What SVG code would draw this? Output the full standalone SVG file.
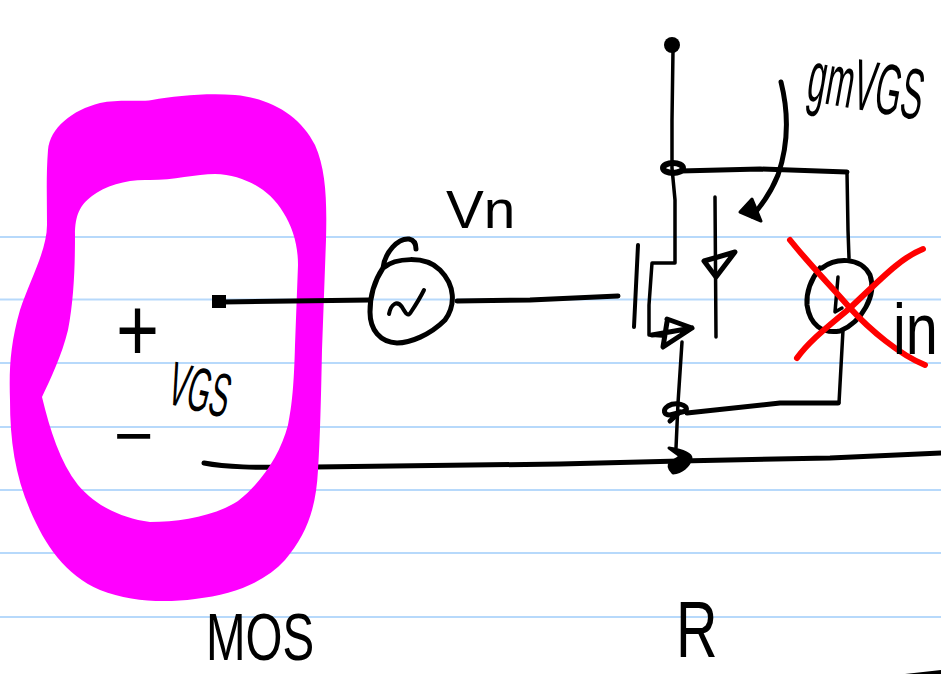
<svg xmlns="http://www.w3.org/2000/svg" width="941" height="674" viewBox="0 0 941 674">
<style>
.rule{stroke:#b7d9fb;stroke-width:2;fill:none}
.ink{stroke:#000;fill:none;stroke-linecap:round;stroke-linejoin:round;stroke-width:4}
.thin{stroke-width:3.500}
.thick{stroke-width:5}
.red{stroke:#f00;fill:none;stroke-width:6;stroke-linecap:round}
.blob{fill:#000;stroke:#000;stroke-width:3;stroke-linejoin:round}
text{font-family:"Liberation Sans",Arial,sans-serif;fill:#000}
</style>
<rect width="941" height="674" fill="#fff"/>
<g id="rules">
<path class="rule" d="M0 237H941M0 299.500H941M0 363H941M0 427H941M0 490H941M0 553H941M0 617H941"/>
</g>
<g id="connectors">
<path class="ink thick" d="M204 463C225 467 250 468 315 467L560 464L680 461L830 458L941 453"/>
</g>
<g id="highlight">
<path fill="#f0f" fill-rule="evenodd" d="M48 150C50 128 72 110 100 103C118 99 140 102 152 100C175 96 205 93 235 95C270 98 300 115 315 145C326 170 327 200 326 240L322 350C321 400 320 440 318 470C316 510 306 535 285 560C265 582 235 594 195 599C165 603 130 602 100 590C65 575 45 545 30 510C15 475 10 440 10 400C9 370 10 345 20 310C30 280 47 250 47 225C47 200 46 175 48 150ZM75 235C75 215 80 205 92 196C105 186 125 180 145 180C170 181 195 174 215 174C245 175 270 190 283 212C293 228 298 245 298 265L295 345C294 385 292 405 288 425C280 455 262 482 238 501C215 516 180 522 150 522C120 518 95 505 78 485C60 462 50 430 42 397C50 380 62 355 68 330C74 300 75 265 75 235Z"/>
</g>
<g id="gate-lead">
<path class="ink thick" d="M222 302L370 300"/>
<rect x="212" y="295" width="14" height="13" fill="#000"/>
<path class="ink thick" d="M457 301L530 300L618 296"/>
</g>
<g id="source-vn">
<path class="ink thick" d="M383 268C395 258 425 255 440 270C455 285 456 305 445 320C430 335 410 343 397 343C380 342 370 330 370 312C370 295 375 280 383 268C385 252 398 238 409 239C414 240 416 244 416 249"/>
<path class="ink" d="M389 314C391 304 397 300 402 307C406 314 408 317 411 312C415 306 420 298 424 290"/>
</g>
<g id="mosfet">
<path class="ink thin" d="M673 50L672 120L672 168L675 200L675 263L652 263L649 305L649 335L662 336"/>
<path class="ink" d="M638 245L634 327"/>
<path class="ink thick" d="M652 335L692 328L667 319M692 328L663 347L667 322"/>
<ellipse cx="672" cy="45" rx="8" ry="8" fill="#000"/>
<ellipse cx="673" cy="168" rx="10" ry="5" fill="none" stroke="#000" stroke-width="6"/>
<path class="ink thin" d="M682 342L678 403L676 448"/>
<path class="ink thick" d="M686 411C689 404 675 402 668 406C662 410 664 415 670 415L686 411M670 421L680 412"/>
<path class="blob" d="M669 448C680 450 691 453 691 458C689 467 681 472 673 473C669 469 668 465 671 462C675 460 678 459 680 456Z"/>
</g>
<g id="current-source">
<path class="ink thin" d="M715 197L716 337"/>
<path class="ink thick" d="M704 261L735 252L716 277Z"/>
<path class="ink thin" d="M847 172L848 230L849 258"/>
<path class="ink thick" d="M822 268C835 258 860 256 870 275C877 295 862 322 840 331C822 334 810 325 807 305C806 290 812 278 820 268"/>
<path class="ink thin" d="M838 277L835 312L842 308"/>
<path class="ink thin" d="M843 330L839 403"/>
<path class="ink thick" d="M687 413L780 403L838 403M680 171L760 169L847 172"/>
<path class="ink thick" d="M781 82C788 110 790 140 778 175C772 190 762 205 752 216"/>
<path class="blob" d="M740 212L752 199L761 221Z"/>
</g>
<g id="cross">
<path class="red" d="M790 240C810 265 830 285 850 308C870 330 900 355 925 365"/>
<path class="red" d="M797 358C810 340 830 325 850 308C880 280 900 258 923 249"/>
</g>
<g id="labels">
<text font-size="72" transform="translate(805 100) rotate(10) scale(.46 1)">gmVGS</text>
<text font-size="54" transform="translate(446 228) scale(1.05 1)">Vn</text>
<text font-size="90" transform="translate(116 361) scale(.82 1)">+</text>
<text font-size="62" transform="translate(165 403) rotate(14) scale(.47 1)">VGS</text>
<text x="114" y="459" font-size="68">−</text>
<text font-size="66" transform="translate(206 660) scale(.72 1)">MOS</text>
<text font-size="80" transform="translate(676 657) scale(.72 1)">R</text>
<text font-size="72" transform="translate(893 354) scale(.8 1)">in</text>
</g>
<path d="M905 674L941 670V674Z" fill="#000"/>
</svg>
